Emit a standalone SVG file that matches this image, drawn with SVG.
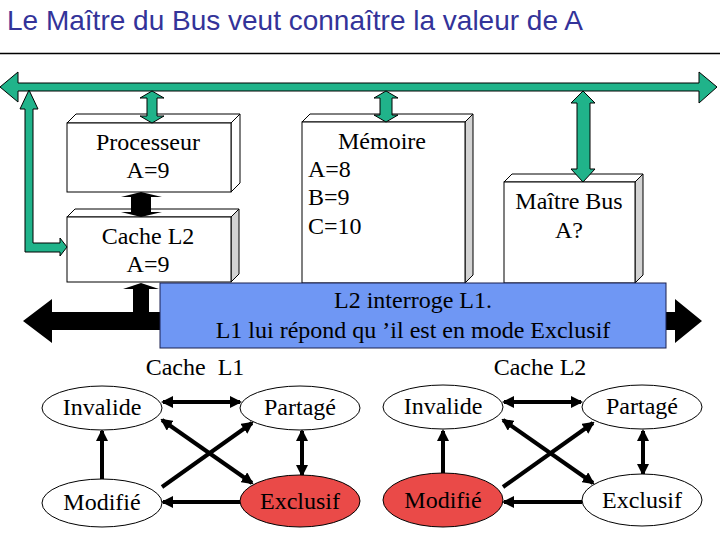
<svg xmlns="http://www.w3.org/2000/svg" width="720" height="540" viewBox="0 0 720 540">
<defs>
<style>
.t{font-family:'Liberation Serif','Tinos','DejaVu Serif','Noto Serif',serif;font-size:24px;fill:#000}
.c{text-anchor:middle}
.g{fill:#20b38a;stroke:#000;stroke-width:1}
.k{fill:#000}
.f{fill:#fff;stroke:#000;stroke-width:1}
.s{fill:#d3d3d3;stroke:#000;stroke-width:1}
.e{fill:#fff;stroke:#000;stroke-width:1}
.r{fill:#ea4a48;stroke:#000;stroke-width:1}
.a{stroke:#000;stroke-width:4;fill:none}
</style>
<marker id="h" viewBox="0 0 12 12" markerUnits="userSpaceOnUse" markerWidth="12" markerHeight="12" refX="10" refY="6" orient="auto-start-reverse">
<path d="M0,0 L12,6 L0,12 z" fill="#000"/>
</marker>
</defs>
<rect width="720" height="540" fill="#fff"/>
<text x="7" y="30" style="font-family:'Liberation Sans',Arial,sans-serif;font-size:28px;fill:#333399">Le Maître du Bus veut connaître la valeur de A</text>
<line x1="0" y1="53.5" x2="720" y2="53.5" stroke="#000" stroke-width="1.5"/>

<g id="processeur">
<polygon class="f" points="67,123 76,114 240,114 231,123"/>
<polygon class="f" points="231,123 240,114 240,183 231,192"/>
<rect class="f" x="67" y="123" width="164" height="69"/>
<text class="t c" x="148" y="150">Processeur</text>
<text class="t c" x="148" y="178">A=9</text>
</g>

<g id="cache-l2">
<polygon class="f" points="67,217 75,209 239,209 231,217"/>
<polygon class="s" points="231,217 239,209 239,274 231,282"/>
<rect class="f" x="67" y="217" width="164" height="65"/>
<text class="t c" x="148" y="244">Cache L2</text>
<text class="t c" x="148" y="272">A=9</text>
</g>

<g id="memoire">
<polygon class="f" points="302,122 310,114 473,114 465,122"/>
<polygon class="s" points="465,122 473,114 473,275 465,283"/>
<rect class="f" x="302" y="122" width="163" height="161"/>
<text class="t c" x="382" y="149">Mémoire</text>
<text class="t" x="308" y="177">A=8</text>
<text class="t" x="308" y="205">B=9</text>
<text class="t" x="308" y="234">C=10</text>
</g>

<g id="maitre-bus">
<polygon class="f" points="504,182 512,174 643,174 635,182"/>
<polygon class="s" points="635,182 643,174 643,275 635,283"/>
<rect class="f" x="504" y="182" width="131" height="101"/>
<text class="t c" x="569" y="209">Maître Bus</text>
<text class="t c" x="569" y="238">A?</text>
</g>

<g id="connectors">
<polygon class="g" points="0,87 18,72 18,83 699,83 699,72 717,87 699,103 699,91 18,91 18,102"/>
<polygon class="g" points="29,90 38,109 33,109 33,243 60,243 60,238 67,247 60,256 60,252 25,252 25,109 20,109"/>
<polygon class="g" points="152,91 164,98 157,98 157,116 164,116 152,123 140,116 147,116 147,98 140,98"/>
<polygon class="g" points="386,91 398,98 392,98 392,115 398,115 386,122 374,115 380,115 380,98 374,98"/>
<polygon class="g" points="583,91 595,103 590,103 590,169 595,169 583,182 571,169 577,169 577,103 571,103"/>
<polygon class="k" points="141,192 162,197 151,197 151,212 162,212 141,217 121,212 131,212 131,197 121,197"/>
<polygon class="k" points="141,283 159,289 149,289 149,313 133,313 133,289 123,289"/>
<polygon class="k" points="23,321 52,299 52,312 675,312 675,299 702,321 675,343 675,330 52,330 52,343"/>
<g id="l1-arrows">
<line class="a" x1="163" y1="402" x2="240" y2="402" marker-start="url(#h)" marker-end="url(#h)"/>
<line class="a" x1="102" y1="480" x2="102" y2="431" marker-end="url(#h)"/>
<line class="a" x1="302" y1="431" x2="302" y2="475" marker-start="url(#h)" marker-end="url(#h)"/>
<line class="a" x1="240" y1="502" x2="163" y2="502" marker-end="url(#h)"/>
<line class="a" x1="162" y1="420" x2="252" y2="483" marker-start="url(#h)" marker-end="url(#h)"/>
<line class="a" x1="162" y1="487" x2="252" y2="423" marker-end="url(#h)"/>
</g>
<g id="l2-arrows">
<line class="a" x1="504" y1="402" x2="581" y2="402" marker-start="url(#h)" marker-end="url(#h)"/>
<line class="a" x1="443" y1="474" x2="443" y2="431" marker-end="url(#h)"/>
<line class="a" x1="643" y1="431" x2="643" y2="474" marker-start="url(#h)" marker-end="url(#h)"/>
<line class="a" x1="582" y1="502" x2="504" y2="502" marker-end="url(#h)"/>
<line class="a" x1="503" y1="420" x2="593" y2="483" marker-start="url(#h)" marker-end="url(#h)"/>
<line class="a" x1="503" y1="487" x2="593" y2="423" marker-end="url(#h)"/>
</g>
</g>

<g id="message">
<rect x="160" y="283" width="506" height="65" fill="#6f97f4" stroke="#1a2050" stroke-width="1"/>
<text class="t c" x="413" y="308">L2 interroge L1.</text>
<text class="t c" x="413" y="338">L1 lui répond qu ’il est en mode Exclusif</text>
</g>

<text class="t c" x="195" y="375" style="white-space:pre">Cache  L1</text>
<text class="t c" x="540" y="375">Cache L2</text>

<g id="l1-invalide"><ellipse class="e" cx="102" cy="408" rx="60" ry="22"/><text class="t c" x="102" y="415">Invalide</text></g>
<g id="l1-partage"><ellipse class="e" cx="300" cy="408" rx="60" ry="22"/><text class="t c" x="300" y="415">Partagé</text></g>
<g id="l1-modifie"><ellipse class="e" cx="102" cy="503" rx="60" ry="24"/><text class="t c" x="102" y="510">Modifié</text></g>
<g id="l1-exclusif"><ellipse class="r" cx="300" cy="501" rx="60" ry="26"/><text class="t c" x="300" y="509">Exclusif</text></g>

<g id="l2-invalide"><ellipse class="e" cx="443" cy="407" rx="60" ry="22"/><text class="t c" x="443" y="414">Invalide</text></g>
<g id="l2-partage"><ellipse class="e" cx="642" cy="407" rx="60" ry="22"/><text class="t c" x="642" y="414">Partagé</text></g>
<g id="l2-modifie"><ellipse class="r" cx="443" cy="500" rx="60" ry="27"/><text class="t c" x="443" y="508">Modifié</text></g>
<g id="l2-exclusif"><ellipse class="e" cx="642" cy="500" rx="60" ry="26"/><text class="t c" x="642" y="508">Exclusif</text></g>
</svg>
